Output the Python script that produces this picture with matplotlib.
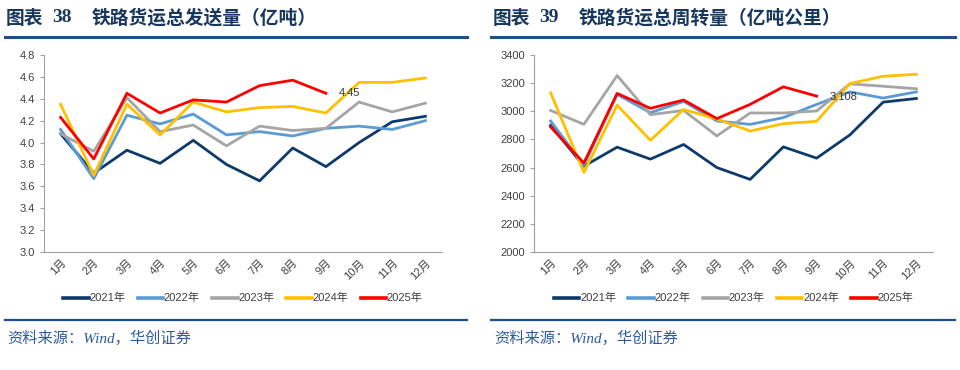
import matplotlib
matplotlib.use("Agg")
import matplotlib.pyplot as plt

plt.rcParams['font.family'] = ['Liberation Sans', 'Noto Sans CJK SC', 'DejaVu Sans']

months = [f"{i}月" for i in range(1, 13)]
years = ["2021年", "2022年", "2023年", "2024年", "2025年"]
colors = ["#0E3A6B", "#5B9BD5", "#A5A5A5", "#FFC000", "#FF0000"]

# 铁路货运总发送量（亿吨）
ton_2021 = [4.08, 3.72, 3.93, 3.81, 4.02, 3.80, 3.65, 3.95, 3.78, 4.00, 4.19, 4.24]
ton_2022 = [4.12, 3.67, 4.25, 4.17, 4.26, 4.07, 4.10, 4.06, 4.13, 4.15, 4.12, 4.20]
ton_2023 = [4.08, 3.92, 4.41, 4.10, 4.16, 3.97, 4.15, 4.11, 4.13, 4.37, 4.28, 4.36]
ton_2024 = [4.35, 3.70, 4.35, 4.07, 4.37, 4.28, 4.32, 4.33, 4.27, 4.55, 4.55, 4.59]
ton_2025 = [4.23, 3.85, 4.45, 4.27, 4.39, 4.37, 4.52, 4.57, 4.45]

# 铁路货运总周转量（亿吨公里）
tkm_2021 = [2900, 2610, 2745, 2660, 2764, 2600, 2516, 2747, 2667, 2832, 3065, 3091]
tkm_2022 = [2931, 2615, 3120, 2990, 3070, 2931, 2907, 2955, 3049, 3138, 3094, 3138]
tkm_2023 = [3006, 2907, 3254, 2976, 3006, 2825, 2988, 2988, 3002, 3195, 3178, 3160]
tkm_2024 = [3131, 2566, 3044, 2794, 3013, 2945, 2860, 2912, 2929, 3197, 3249, 3263]
tkm_2025 = [2889, 2632, 3127, 3021, 3080, 2948, 3049, 3174, 3108]

W, H = 960, 370
fig = plt.figure(figsize=(W / 100, H / 100), dpi=100)
navy = "#17375E"
serif_cjk = ['Liberation Serif', 'Noto Sans CJK SC']


def px(x0, y_top, w, h):
    return [x0 / W, 1 - (y_top + h) / H, w / W, h / H]


def panel(x_title, x_line0, x_line1, ax_rect, num, title, series, ylim, yticks, yfmt, label):
    fig.text(x_title / W, 1 - 18 / H, "图表", fontsize=13.5, fontweight='bold',
             color=navy, va='center', ha='left', family='Noto Sans CJK SC')
    fig.text((x_title + 46) / W, 1 - 18 / H, num, fontsize=14, fontweight='bold',
             color=navy, va='center', ha='left', family='Liberation Serif')
    fig.text((x_title + 86) / W, 1 - 18 / H, title, fontsize=13.5, fontweight='bold',
             color=navy, va='center', ha='left', family='Noto Sans CJK SC')
    fig.add_artist(plt.Line2D([x_line0 / W, x_line1 / W], [1 - 37 / H] * 2,
                              color="#1F4E8C", lw=2.2))
    fig.add_artist(plt.Line2D([x_line0 / W, x_line1 / W], [1 - 320 / H] * 2,
                              color="#1F4E8C", lw=1.6))
    fig.text((x_title + 1) / W, 1 - 338 / H, "资料来源：Wind，华创证券", fontsize=11,
             color="#2E5C9A", va='center', ha='left', style='italic', family=serif_cjk)

    ax = fig.add_axes(px(*ax_rect))
    x = list(range(12))
    for vals, c, name in zip(series, colors, years):
        ax.plot(x[:len(vals)], vals, color=c, lw=2.0, label=name)
    last = series[-1]
    ax.annotate(label, (len(last) - 1, last[-1]), xytext=(9, 0),
                textcoords='offset points', fontsize=8, color="#333333",
                va='center', ha='left')
    ax.set_xlim(-0.5, 11.5)
    ax.set_ylim(*ylim)
    ax.set_yticks(yticks)
    ax.set_yticklabels([yfmt.format(v) for v in yticks])
    ax.set_xticks(x)
    ax.set_xticklabels(months, rotation=45, ha='right', rotation_mode='anchor')
    for s in ['top', 'right']:
        ax.spines[s].set_visible(False)
    for s in ['left', 'bottom']:
        ax.spines[s].set_color("#A0A0A0")
    ax.tick_params(axis='y', labelsize=8, colors="#A0A0A0", labelcolor="#404040",
                   length=3, width=0.8)
    ax.tick_params(axis='x', labelsize=8, length=0, labelcolor="#404040", pad=4)
    leg = ax.legend(loc='center', bbox_to_anchor=(0.5, -0.235), ncol=5, frameon=False,
                    fontsize=8, handlelength=2.3, handletextpad=0.05, columnspacing=1.1)
    for ln in leg.get_lines():
        ln.set_linewidth(2.6)
    for t in leg.get_texts():
        t.set_color("#404040")
    return ax


panel(6, 5, 467, (44, 55, 398, 197), "38", "铁路货运总发送量（亿吨）",
      [ton_2021, ton_2022, ton_2023, ton_2024, ton_2025], (3.0, 4.8),
      [3.0, 3.2, 3.4, 3.6, 3.8, 4.0, 4.2, 4.4, 4.6, 4.8], "{:.1f}", "4.45")

panel(493, 491, 955, (534, 55, 399, 197), "39", "铁路货运总周转量（亿吨公里）",
      [tkm_2021, tkm_2022, tkm_2023, tkm_2024, tkm_2025], (2000, 3400),
      [2000, 2200, 2400, 2600, 2800, 3000, 3200, 3400], "{:d}", "3,108")

fig.savefig("out.png", dpi=100)
